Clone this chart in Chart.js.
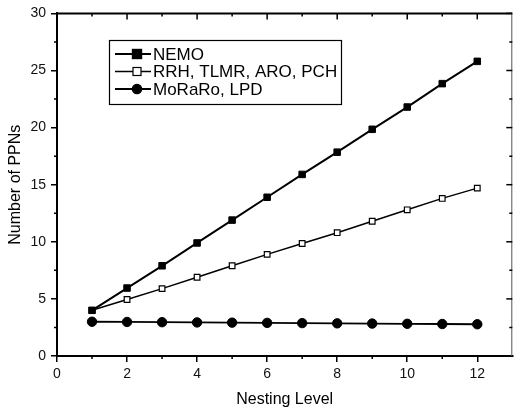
<!DOCTYPE html>
<html>
<head>
<meta charset="utf-8">
<script src="https://cdn.jsdelivr.net/npm/chart.js@4/dist/chart.umd.min.js"></script>
<style>
  html, body { margin: 0; padding: 0; background: #fff; }
  canvas { display: block; }
</style>
</head>
<body>
<canvas id="myChart" width="518" height="413"></canvas>
<script>
// nesting levels on the x axis
const levels = [1, 2, 3, 4, 5, 6, 7, 8, 9, 10, 11, 12];

// number of PPNs per protocol group
const nemo = [4, 5.95, 7.9, 9.9, 11.9, 13.9, 15.9, 17.85, 19.85, 21.8, 23.85, 25.8];
const rrh = [4, 4.95, 5.9, 6.9, 7.9, 8.9, 9.85, 10.8, 11.8, 12.8, 13.8, 14.7];
const moraro = [3, 2.98, 2.96, 2.94, 2.92, 2.9, 2.88, 2.86, 2.84, 2.82, 2.8, 2.78];

const seriesNames = ['NEMO', 'RRH, TLMR, ARO, PCH', 'MoRaRo, LPD'];

const FONT = "'Liberation Sans', Arial, Helvetica, sans-serif";

function toPoints(values){
    return levels.map((lv, i) => ({x: lv, y: values[i]}))
}

// minor/major tick marks on all four sides + top frame line
const frameTicks = {
    id: 'frameTicks',
    afterDraw(chart){
        const c = chart.ctx;
        const xs = chart.scales.x;
        const ys = chart.scales.y;
        const a = chart.chartArea;
        c.save();
        c.strokeStyle = '#000';

        // top frame
        c.lineWidth = 2;
        c.beginPath();
        c.moveTo(a.left, a.top);
        c.lineTo(a.right, a.top);
        c.stroke();
        c.lineWidth = 1;
        c.strokeStyle = '#555';
        c.beginPath();
        c.moveTo(a.right - 0.5, a.top);
        c.lineTo(a.right - 0.5, a.bottom);
        c.stroke();
        c.strokeStyle = '#000';

        c.lineWidth = 1.5;
        // x ticks
        for (let v = 1; v <= 12; v++) {
            const px = xs.getPixelForValue(v);
            const major = v % 2 === 0;
            c.beginPath();
            if (!major) {
                c.moveTo(px, a.bottom);
                c.lineTo(px, a.bottom + 3);
            }
            c.moveTo(px, a.top);
            c.lineTo(px, a.top + (major ? 6 : 3));
            c.stroke();
        }
        // y ticks
        for (let v = 2.5; v <= 30; v += 2.5) {
            const py = ys.getPixelForValue(v);
            const major = v % 5 === 0;
            c.beginPath();
            if (!major) {
                c.moveTo(a.left, py);
                c.lineTo(a.left - 3, py);
            }
            c.moveTo(a.right, py);
            c.lineTo(a.right - (major ? 6 : 3), py);
            c.stroke();
        }
        c.restore();
    }
};

// boxed legend in the upper left of the plot
const boxLegend = {
    id: 'boxLegend',
    afterDraw(chart){
        const c = chart.ctx;
        const box = {x: 109, y: 40, w: 232, h: 64};
        c.save();
        c.fillStyle = '#fff';
        c.fillRect(box.x, box.y, box.w, box.h);
        c.strokeStyle = '#000';
        c.lineWidth = 1.2;
        c.strokeRect(box.x + 0.5, box.y + 0.5, box.w, box.h);

        const rows = [54, 71.5, 89];
        chart.data.datasets.forEach((ds, i) => {
            const y = rows[i];
            c.strokeStyle = '#000';
            c.lineWidth = ds.borderWidth;
            c.beginPath();
            c.moveTo(115, y);
            c.lineTo(151, y);
            c.stroke();

            c.fillStyle = ds.pointBackgroundColor;
            c.lineWidth = 1.2;
            if (ds.pointStyle === 'circle') {
                c.beginPath();
                c.arc(137, y, ds.pointRadius, 0, Math.PI * 2);
                c.fill();
                c.stroke();
            } else {
                const r = ds.pointRadius;
                c.fillRect(137 - r, y - r, r * 2, r * 2);
                c.strokeRect(137 - r, y - r, r * 2, r * 2);
            }

            c.fillStyle = '#000';
            c.font = '17px ' + FONT;
            c.textBaseline = 'middle';
            c.textAlign = 'left';
            c.fillText(ds.label, 153, y + 1);
        });
        c.restore();
    }
};

const ctx = document.getElementById('myChart');

new Chart(ctx, {
    type: 'line',
    data: {
        datasets: [
            {
                label: seriesNames[0],
                data: toPoints(nemo),
                borderColor: '#000',
                borderWidth: 2,
                pointStyle: 'rect',
                pointRadius: 4.6,
                pointBackgroundColor: '#000',
                pointBorderColor: '#000',
                pointBorderWidth: 1
            },
            {
                label: seriesNames[1],
                data: toPoints(rrh),
                borderColor: '#000',
                borderWidth: 1.5,
                pointStyle: 'rect',
                pointRadius: 4,
                pointBackgroundColor: '#fff',
                pointBorderColor: '#000',
                pointBorderWidth: 1.2
            },
            {
                label: seriesNames[2],
                data: toPoints(moraro),
                borderColor: '#000',
                borderWidth: 1.8,
                pointStyle: 'circle',
                pointRadius: 4.7,
                pointBackgroundColor: '#000',
                pointBorderColor: '#000',
                pointBorderWidth: 1
            }
        ]
    },
    options: {
        responsive: false,
        animation: false,
        layout: {
            padding: {top: 13, right: 0, left: 0, bottom: 0}
        },
        scales: {
            x: {
                type: 'linear',
                min: 0,
                max: 13,
                afterBuildTicks: (scale) => {
                    scale.ticks = scale.ticks.filter((t) => t.value % 2 === 0);
                },
                afterFit: (scale) => { scale.height = 57; },
                ticks: {
                    stepSize: 2,
                    padding: 4,
                    color: '#111',
                    font: {family: FONT, size: 14}
                },
                grid: {
                    drawOnChartArea: false,
                    color: '#000',
                    lineWidth: 1.5,
                    tickLength: 6
                },
                border: {color: '#000', width: 2},
                title: {
                    display: true,
                    text: 'Nesting Level',
                    color: '#000',
                    font: {family: FONT, size: 16},
                    padding: {top: 0, bottom: 4}
                }
            },
            y: {
                min: 0,
                max: 30,
                afterFit: (scale) => { scale.width = 57; },
                ticks: {
                    stepSize: 5,
                    padding: 5,
                    color: '#111',
                    font: {family: FONT, size: 14}
                },
                grid: {
                    drawOnChartArea: false,
                    color: '#000',
                    lineWidth: 1.5,
                    tickLength: 6
                },
                border: {color: '#000', width: 2},
                title: {
                    display: true,
                    text: 'Number of PPNs',
                    color: '#000',
                    font: {family: FONT, size: 16},
                    padding: {top: 6, bottom: 0}
                }
            }
        },
        plugins: {
            legend: {display: false},
            tooltip: {enabled: false}
        }
    },
    plugins: [frameTicks, boxLegend]
});
</script>
</body>
</html>
